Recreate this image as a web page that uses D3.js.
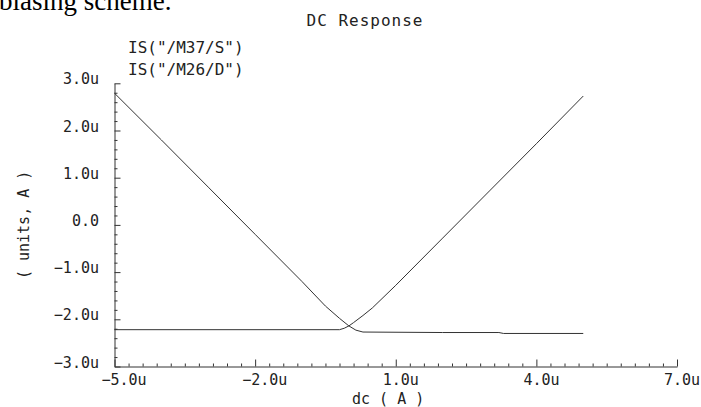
<!DOCTYPE html>
<html>
<head>
<meta charset="utf-8">
<script src="https://cdn.jsdelivr.net/npm/d3@7"></script>
<style>
  html, body { margin: 0; padding: 0; background: #fff; }
  svg { display: block; }
  .mono { font-family: "DejaVu Sans Mono", monospace; fill: #222; font-variant-numeric: slashed-zero; }
</style>
</head>
<body>
<svg id="chart" width="701" height="407"></svg>
<script>
// Sweep values (dc source, µA) and simulated currents (µA)
const sweepM37 = [-5, -4, -3, -2, -1, -0.5, -0.2, 0, 0.15, 0.3, 2, 3.2, 3.3, 5];
const currentM37 = [2.79, 1.8, 0.8, -0.2, -1.2, -1.72, -1.98, -2.14, -2.23, -2.27, -2.28, -2.28, -2.30, -2.30];

const sweepM26 = [-5, -0.2, -0.1, 0, 0.1, 0.3, 0.5, 1, 2, 3, 4, 5];
const currentM26 = [-2.22, -2.22, -2.19, -2.14, -2.07, -1.92, -1.76, -1.28, -0.28, 0.72, 1.72, 2.73];

const seriesNames = ['IS("/M37/S")', 'IS("/M26/D")'];
const xMajorTicks = [-5, -2, 1, 4, 7];
const yMajorTicks = [-3, -2, -1, 0, 1, 2, 3];
const chartTitle = "DC Response";
const xTitle = "dc ( A )";
const yTitle = "( units, A )";
const captionAbove = "biasing scheme.";

const svg = d3.select("#chart");

const x = d3.scaleLinear().domain([-5, 7]).range([114.5, 677]);
const y = d3.scaleLinear().domain([-3, 3]).range([366.5, 83.3]);

const fmt = v => Math.abs(v) < 1e-9 ? "0.0" : d3.format(".1f")(v) + "u";

// Caption fragment at the top edge
svg.append("text")
  .attr("x", -1).attr("y", 10)
  .attr("font-family", "Liberation Serif, Times New Roman, serif")
  .attr("font-size", 27)
  .attr("fill", "#000")
  .text(captionAbove);

// Title
svg.append("text").attr("class", "mono")
  .attr("x", 365).attr("y", 26)
  .attr("text-anchor", "middle")
  .attr("font-size", 16)
  .attr("letter-spacing", 1)
  .text(chartTitle);

// Legend labels
seriesNames.forEach((name, i) => {
  svg.append("text").attr("class", "mono")
    .attr("x", 128).attr("y", 53 + i * 22)
    .attr("font-size", 16)
    .text(name);
});

// Axes: ticks point into the plot
const minorX = d3.range(-5, 7.0001, 0.3).filter(v => !xMajorTicks.some(m => Math.abs(m - v) < 1e-6));
const minorY = d3.range(-3, 3.0001, 0.2).filter(v => !yMajorTicks.some(m => Math.abs(m - v) < 1e-6));

const gx = svg.append("g").attr("transform", `translate(0,${y(-3)})`);
gx.call(d3.axisBottom(x).tickValues(xMajorTicks).tickSizeInner(-7).tickSizeOuter(0).tickFormat(""));
gx.append("g").call(d3.axisBottom(x).tickValues(minorX).tickSizeInner(-3).tickSizeOuter(0).tickFormat(""))
  .select(".domain").remove();

const gy = svg.append("g").attr("transform", `translate(${x(-5)},0)`);
gy.call(d3.axisLeft(y).tickValues(yMajorTicks).tickSizeInner(-6).tickSizeOuter(0).tickFormat(""));
gy.append("g").call(d3.axisLeft(y).tickValues(minorY).tickSizeInner(-3).tickSizeOuter(0).tickFormat(""))
  .select(".domain").remove();

svg.selectAll(".domain, .tick line").attr("stroke", "#333").attr("stroke-width", 1);

// Tick labels
svg.selectAll(".xlab").data(xMajorTicks).join("text").attr("class", "mono xlab")
  .attr("x", d => d === 7 ? 700 : x(d) - 13)
  .attr("y", 385)
  .attr("text-anchor", d => d === 7 ? "end" : "start")
  .attr("font-size", 15)
  .text(fmt);

svg.selectAll(".ylab").data(yMajorTicks).join("text").attr("class", "mono ylab")
  .attr("x", 99)
  .attr("y", d => y(d) + 1)
  .attr("text-anchor", "end")
  .attr("font-size", 15)
  .text(fmt);

// Axis titles
svg.append("text").attr("class", "mono")
  .attr("x", 352).attr("y", 404)
  .attr("font-size", 15)
  .text(xTitle);

svg.append("text").attr("class", "mono")
  .attr("transform", `translate(29,${y(0)}) rotate(-90)`)
  .attr("text-anchor", "middle")
  .attr("font-size", 15)
  .text(yTitle);

// Curves
const line = d3.line().x(d => x(d[0])).y(d => y(d[1]));
const curves = [
  d3.zip(sweepM37, currentM37),
  d3.zip(sweepM26, currentM26)
];
svg.selectAll(".curve").data(curves).join("path").attr("class", "curve")
  .attr("d", line)
  .attr("fill", "none")
  .attr("stroke", "#333")
  .attr("stroke-width", 1);
</script>
</body>
</html>
